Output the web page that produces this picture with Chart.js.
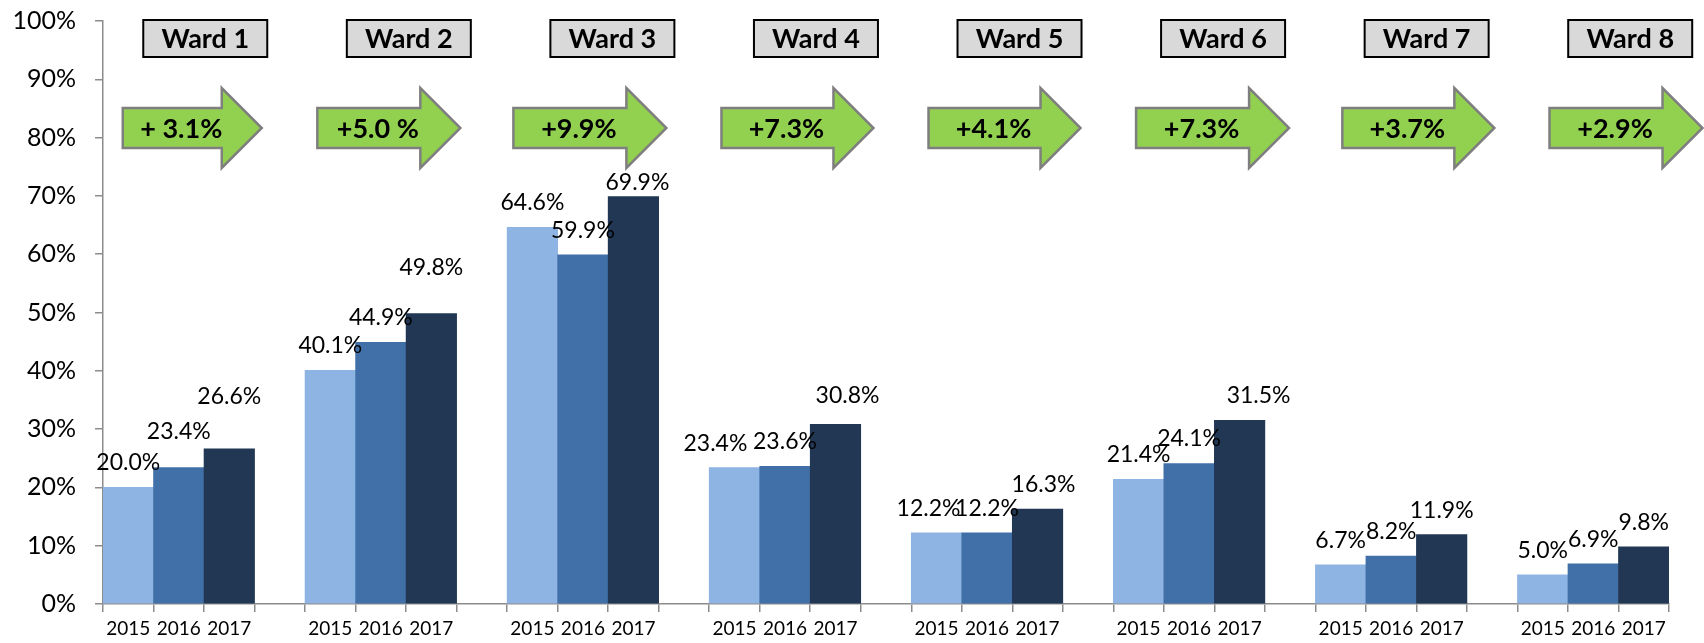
<!DOCTYPE html>
<html>
<head>
<meta charset="utf-8">
<script src="https://cdn.jsdelivr.net/npm/chart.js@4.4.1/dist/chart.umd.min.js"></script>
<style>
  html, body { margin: 0; padding: 0; background: #fff; }
  #wrap { width: 1704px; height: 643px; }
</style>
</head>
<body>
<div id="wrap"><canvas id="wardChart" width="1704" height="643"></canvas></div>
<script>
const wards = ["Ward 1", "Ward 2", "Ward 3", "Ward 4", "Ward 5", "Ward 6", "Ward 7", "Ward 8"];
const years = ["2015", "2016", "2017"];
const share2015 = [20.0, 40.1, 64.6, 23.4, 12.2, 21.4, 6.7, 5.0];
const share2016 = [23.4, 44.9, 59.9, 23.6, 12.2, 24.1, 8.2, 6.9];
const share2017 = [26.6, 49.8, 69.9, 30.8, 16.3, 31.5, 11.9, 9.8];
const changes = ["+ 3.1%", "+5.0 %", "+9.9%", "+7.3%", "+4.1%", "+7.3%", "+3.7%", "+2.9%"];

const yearColors = ["#8EB4E3", "#4170A8", "#213754"];
const axisGray = "#8c8c8c";

// each ward gets three year slots, then an empty spacer slot
const labels = [];
const values = [];
const colors = [];
wards.forEach((w, i) => {
  const vals = [share2015[i], share2016[i], share2017[i]];
  years.forEach((yr, j) => {
    labels.push(yr);
    values.push(vals[j]);
    colors.push(yearColors[j]);
  });
  if (i < wards.length - 1) {
    labels.push("");
    values.push(null);
    colors.push("rgba(0,0,0,0)");
  }
});

// hand-placed shapes in the original, so nudge them a bit per ward
const arrowShift = [-5.5, -13, -19, -13, -8, -2.5, 1.7, 6.8];
const arrowBody = [99, 103, 113, 112, 112, 113, 112, 113];
// a few value labels were dragged around in the original: "ward-year" -> [dx, dy]
const labelNudge = {
  "0-1": [0, -12], "0-2": [0, -28], "1-2": [0, -22], "2-2": [4, 11],
  "3-0": [-19, 0], "3-2": [12, -4], "4-0": [-8, 0], "4-2": [6, 0], "5-2": [19, 0]
};

const overlay = {
  id: "wardOverlay",
  afterDatasetsDraw(chart) {
    const ctx = chart.ctx;
    const x = chart.scales.x;
    const meta = chart.getDatasetMeta(0);

    ctx.save();
    // value labels
    ctx.font = "23px Lato";
    ctx.fillStyle = "#000";
    ctx.textAlign = "center";
    ctx.textBaseline = "alphabetic";
    meta.data.forEach((bar, k) => {
      const v = values[k];
      if (v == null) return;
      const key = Math.floor(k / 4) + "-" + (k % 4);
      const [dx, dy] = labelNudge[key] || [0, 0];
      ctx.fillText(v.toFixed(1) + "%", bar.x + dx, bar.y - 17 + dy);
    });

    wards.forEach((w, i) => {
      const anchor = x.getPixelForValue(i * 4);

      // ward name box
      const bx = anchor + 15 + 1.5 * i;
      ctx.fillStyle = "#D9D9D9";
      ctx.fillRect(bx, 20, 124, 37);
      ctx.lineWidth = 2;
      ctx.strokeStyle = "#000";
      ctx.strokeRect(bx, 20, 124, 37);
      ctx.fillStyle = "#000";
      ctx.font = "bold 27px Lato";
      ctx.fillText(w, bx + 62, 48);

      // green arrow with the change
      const l = anchor + arrowShift[i];
      const hb = l + arrowBody[i];
      ctx.beginPath();
      ctx.moveTo(l, 108);
      ctx.lineTo(hb, 108);
      ctx.lineTo(hb, 88);
      ctx.lineTo(hb + 40, 128);
      ctx.lineTo(hb, 168);
      ctx.lineTo(hb, 148);
      ctx.lineTo(l, 148);
      ctx.closePath();
      ctx.fillStyle = "#92D050";
      ctx.fill();
      ctx.lineWidth = 2.5;
      ctx.strokeStyle = "#7F7F7F";
      ctx.stroke();
      ctx.fillStyle = "#000";
      ctx.fillText(changes[i], l + arrowBody[i] / 2 + 9, 138);
    });
    ctx.restore();
  }
};

function draw() {
  new Chart(document.getElementById("wardChart"), {
    type: "bar",
    data: {
      labels: labels,
      datasets: [{
        data: values,
        backgroundColor: colors,
        borderWidth: 0,
        barPercentage: 1,
        categoryPercentage: 1
      }]
    },
    options: {
      responsive: false,
      animation: false,
      layout: { padding: { top: 21, right: 35, left: 0, bottom: 0 } },
      plugins: {
        legend: { display: false },
        tooltip: { enabled: false }
      },
      scales: {
        x: {
          grid: { drawOnChartArea: false, drawTicks: true, tickLength: 8, color: axisGray, lineWidth: 1.5 },
          border: { color: axisGray, width: 1.5 },
          ticks: { font: { family: "Lato", size: 19 }, color: "#000", padding: 5, autoSkip: false, maxRotation: 0 },
          afterFit: s => { s.height = 39; }
        },
        y: {
          min: 0,
          max: 100,
          ticks: {
            stepSize: 10,
            callback: v => v + "%",
            font: { family: "Lato", size: 25 },
            color: "#000",
            padding: 19
          },
          grid: { drawOnChartArea: false, tickLength: 8, color: axisGray, lineWidth: 1.5 },
          border: { color: axisGray, width: 1.5 },
          afterFit: s => {
            s.width = 103;
            // the label padding would otherwise push the plot area down
            s.paddingTop = 0;
            s.paddingBottom = 0;
          }
        }
      }
    },
    plugins: [overlay]
  });
}

Promise.all([
  document.fonts.load("24px Lato"),
  document.fonts.load("bold 24px Lato")
]).then(draw, draw);
</script>
</body>
</html>
